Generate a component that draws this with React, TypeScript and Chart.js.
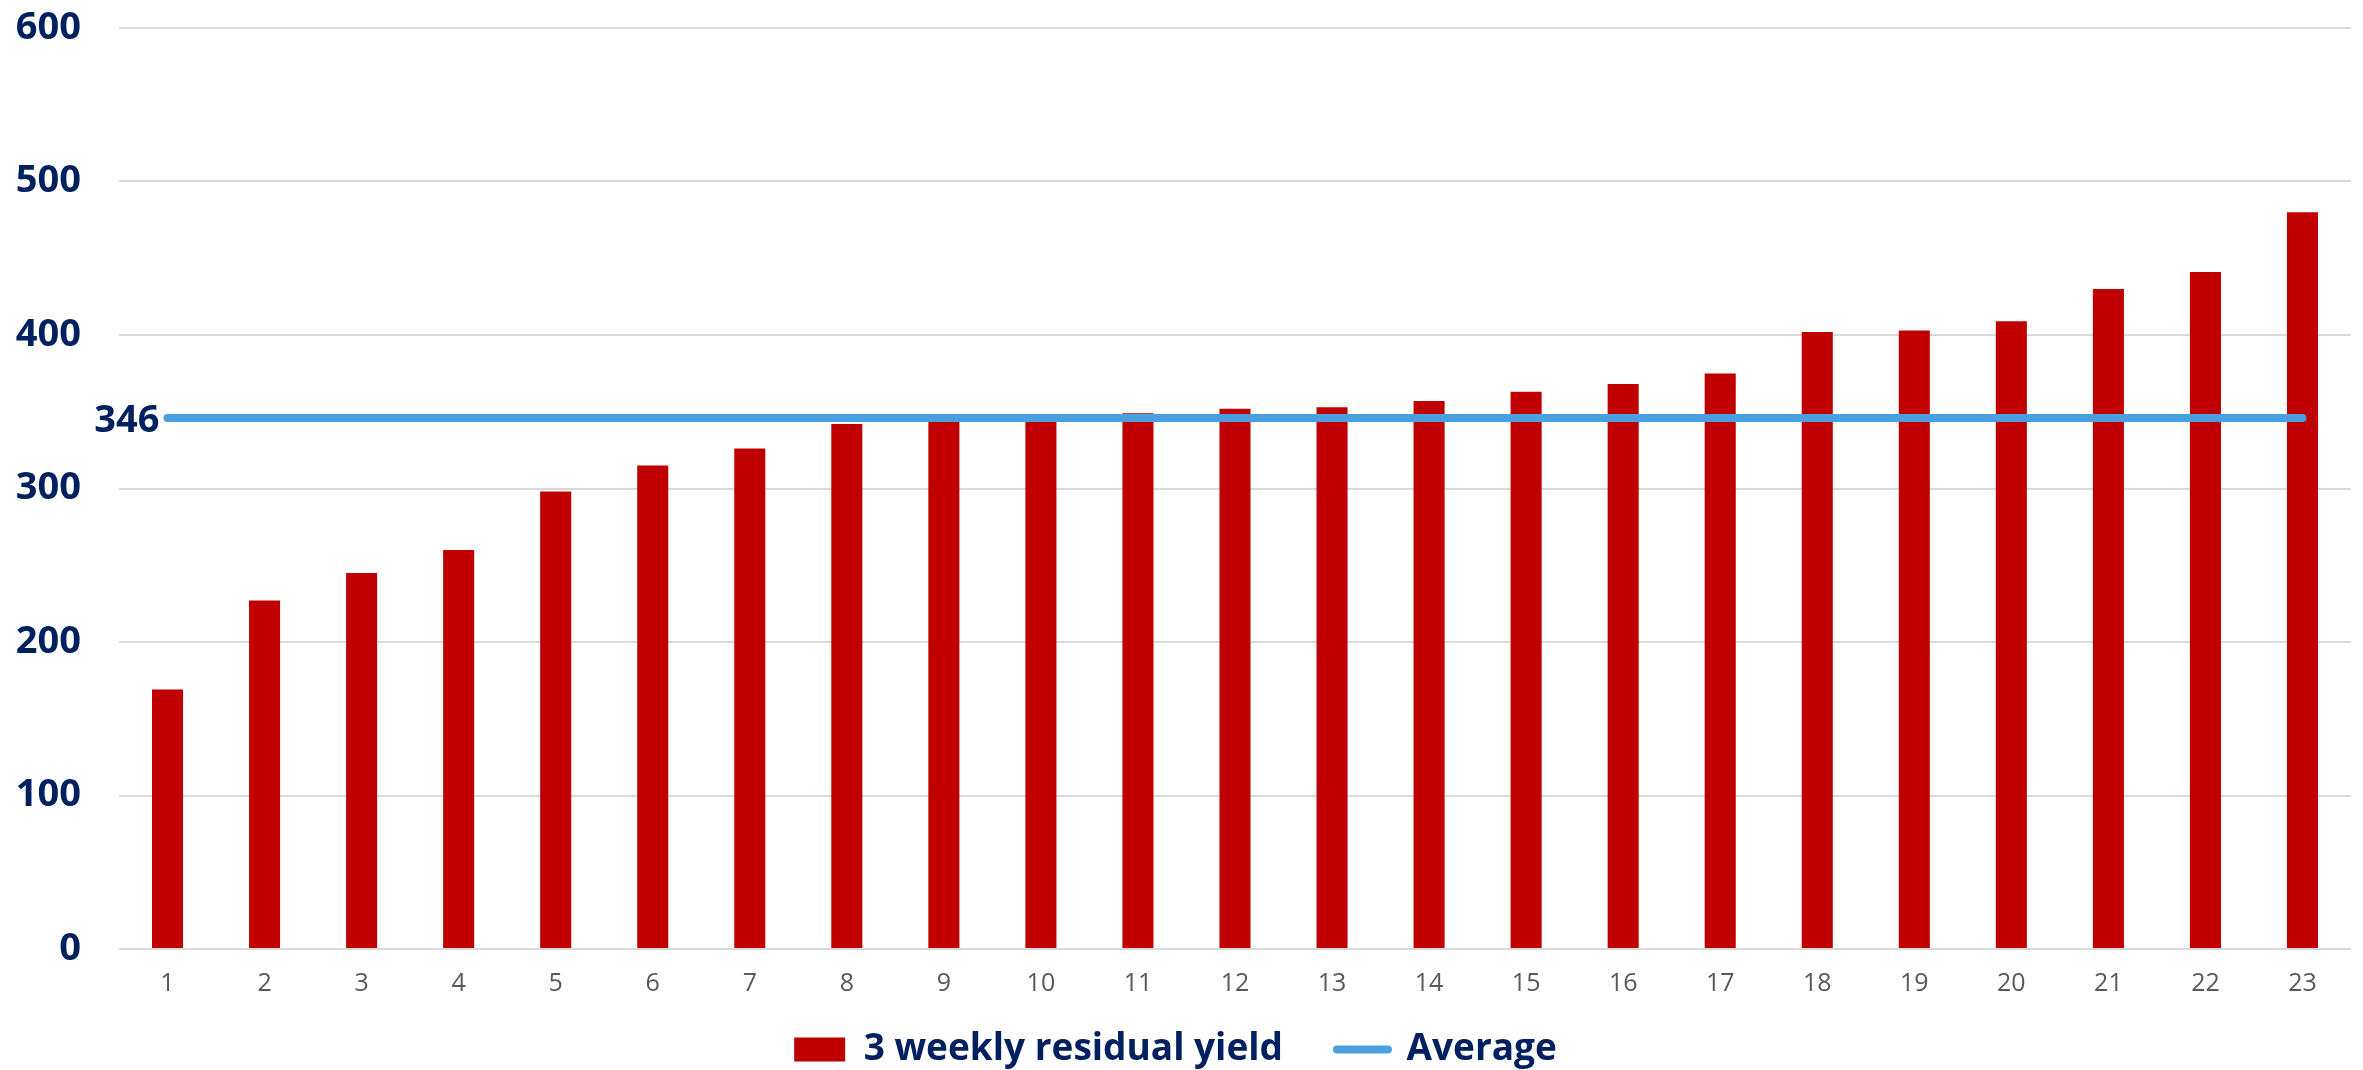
import React, { useEffect, useRef } from "react";
import { Chart, registerables } from "chart.js";

Chart.register(...registerables);

const categories = ["1", "2", "3", "4", "5", "6", "7", "8", "9", "10", "11", "12", "13", "14", "15", "16", "17", "18", "19", "20", "21", "22", "23"];
const residualYield = [169, 227, 245, 260, 298, 315, 326, 342, 345, 346, 349, 352, 353, 357, 363, 368, 375, 402, 403, 409, 430, 441, 480];
const averageValues = [346, 346, 346, 346, 346, 346, 346, 346, 346, 346, 346, 346, 346, 346, 346, 346, 346, 346, 346, 346, 346, 346, 346];
const averageLabel = "346";
const seriesNames = ["3 weekly residual yield", "Average"];
const yMin = 0;
const yMax = 600;
const yStep = 100;

const NAVY = "#002060";
const RED = "#C00000";
const BLUE = "#4AA0DE";
const GRID = "#D9D9D9";
const FONT = '"Open Sans", sans-serif';

const CANVAS_W = 2363;
const CANVAS_H = 1078;

const avgLabelPlugin = {
  id: "avgLabel",
  afterDatasetsDraw(chart: any) {
    const meta = chart.getDatasetMeta(1);
    const pt = meta.data[0];
    if (!pt) return;
    const ctx = chart.ctx;
    ctx.save();
    ctx.font = `bold 38px ${FONT}`;
    ctx.fillStyle = NAVY;
    ctx.textAlign = "right";
    ctx.textBaseline = "middle";
    ctx.fillText(averageLabel, pt.x - 8, pt.y + 3);
    ctx.restore();
  },
};

// let the x tick labels extend below the (short) x-axis box without being clipped
const xLabelRoomPlugin = {
  id: "xLabelRoom",
  afterLayout(chart: any) {
    const s = chart.scales.x;
    if (s) {
      s.bottom = s.top + 70;
    }
  },
};

export default function App() {
  const ref = useRef<HTMLCanvasElement | null>(null);

  useEffect(() => {
    if (!ref.current) return;
    const chart = new Chart(ref.current, {
      type: "bar",
      data: {
        labels: categories,
        datasets: [
          {
            type: "bar",
            label: seriesNames[0],
            data: residualYield,
            backgroundColor: RED,
            borderWidth: 0,
            barPercentage: 0.32,
            categoryPercentage: 1,
            order: 2,
          },
          {
            type: "line",
            label: seriesNames[1],
            data: averageValues,
            borderColor: BLUE,
            backgroundColor: BLUE,
            borderWidth: 8,
            borderCapStyle: "round",
            pointRadius: 0,
            pointHoverRadius: 0,
            fill: false,
            order: 1,
          } as any,
        ],
      },
      options: {
        responsive: false,
        animation: false,
        layout: { padding: { top: 28, right: 12, bottom: 0, left: 0 } },
        plugins: {
          tooltip: { enabled: false },
          legend: {
            position: "bottom",
            labels: {
              usePointStyle: true,
              pointStyleWidth: 51,
              boxHeight: 24,
              padding: 54,
              color: NAVY,
              font: { family: FONT, size: 37, weight: "bold" },
              sort: (a: any, b: any) => a.datasetIndex - b.datasetIndex,
              generateLabels: (chart: any) => {
                const items = Chart.defaults.plugins.legend.labels.generateLabels(chart);
                return items.map((it: any) => {
                  if (it.datasetIndex === 0) {
                    return { ...it, pointStyle: "rect", fillStyle: RED, strokeStyle: RED, lineWidth: 0 };
                  }
                  return { ...it, pointStyle: "line", fillStyle: BLUE, strokeStyle: BLUE, lineWidth: 8, lineCap: "round" };
                });
              },
            },
          },
        },
        scales: {
          x: {
            grid: { display: false, drawTicks: false },
            border: { display: false },
            ticks: {
              color: "#595959",
              font: { family: FONT, size: 25 },
              padding: 20,
              maxRotation: 0,
            },
            afterFit: (scale: any) => {
              scale.height = 28;
            },
          },
          y: {
            min: yMin,
            max: yMax,
            ticks: {
              stepSize: yStep,
              color: NAVY,
              font: { family: FONT, size: 38, weight: "bold" },
              padding: 38,
            },
            grid: { color: GRID, lineWidth: 2, drawTicks: false },
            border: { display: false },
            afterFit: (scale: any) => {
              scale.width = 119;
              scale.paddingTop = 0;
              scale.paddingBottom = 0;
            },
          },
        },
      },
      plugins: [avgLabelPlugin, xLabelRoomPlugin],
    });
    return () => chart.destroy();
  }, []);

  return (
    <div style={{ position: "fixed", left: 0, top: 0, width: CANVAS_W, height: 1070, overflow: "hidden", background: "#fff" }}>
      <canvas ref={ref} width={CANVAS_W} height={CANVAS_H} style={{ display: "block" }} />
    </div>
  );
}
